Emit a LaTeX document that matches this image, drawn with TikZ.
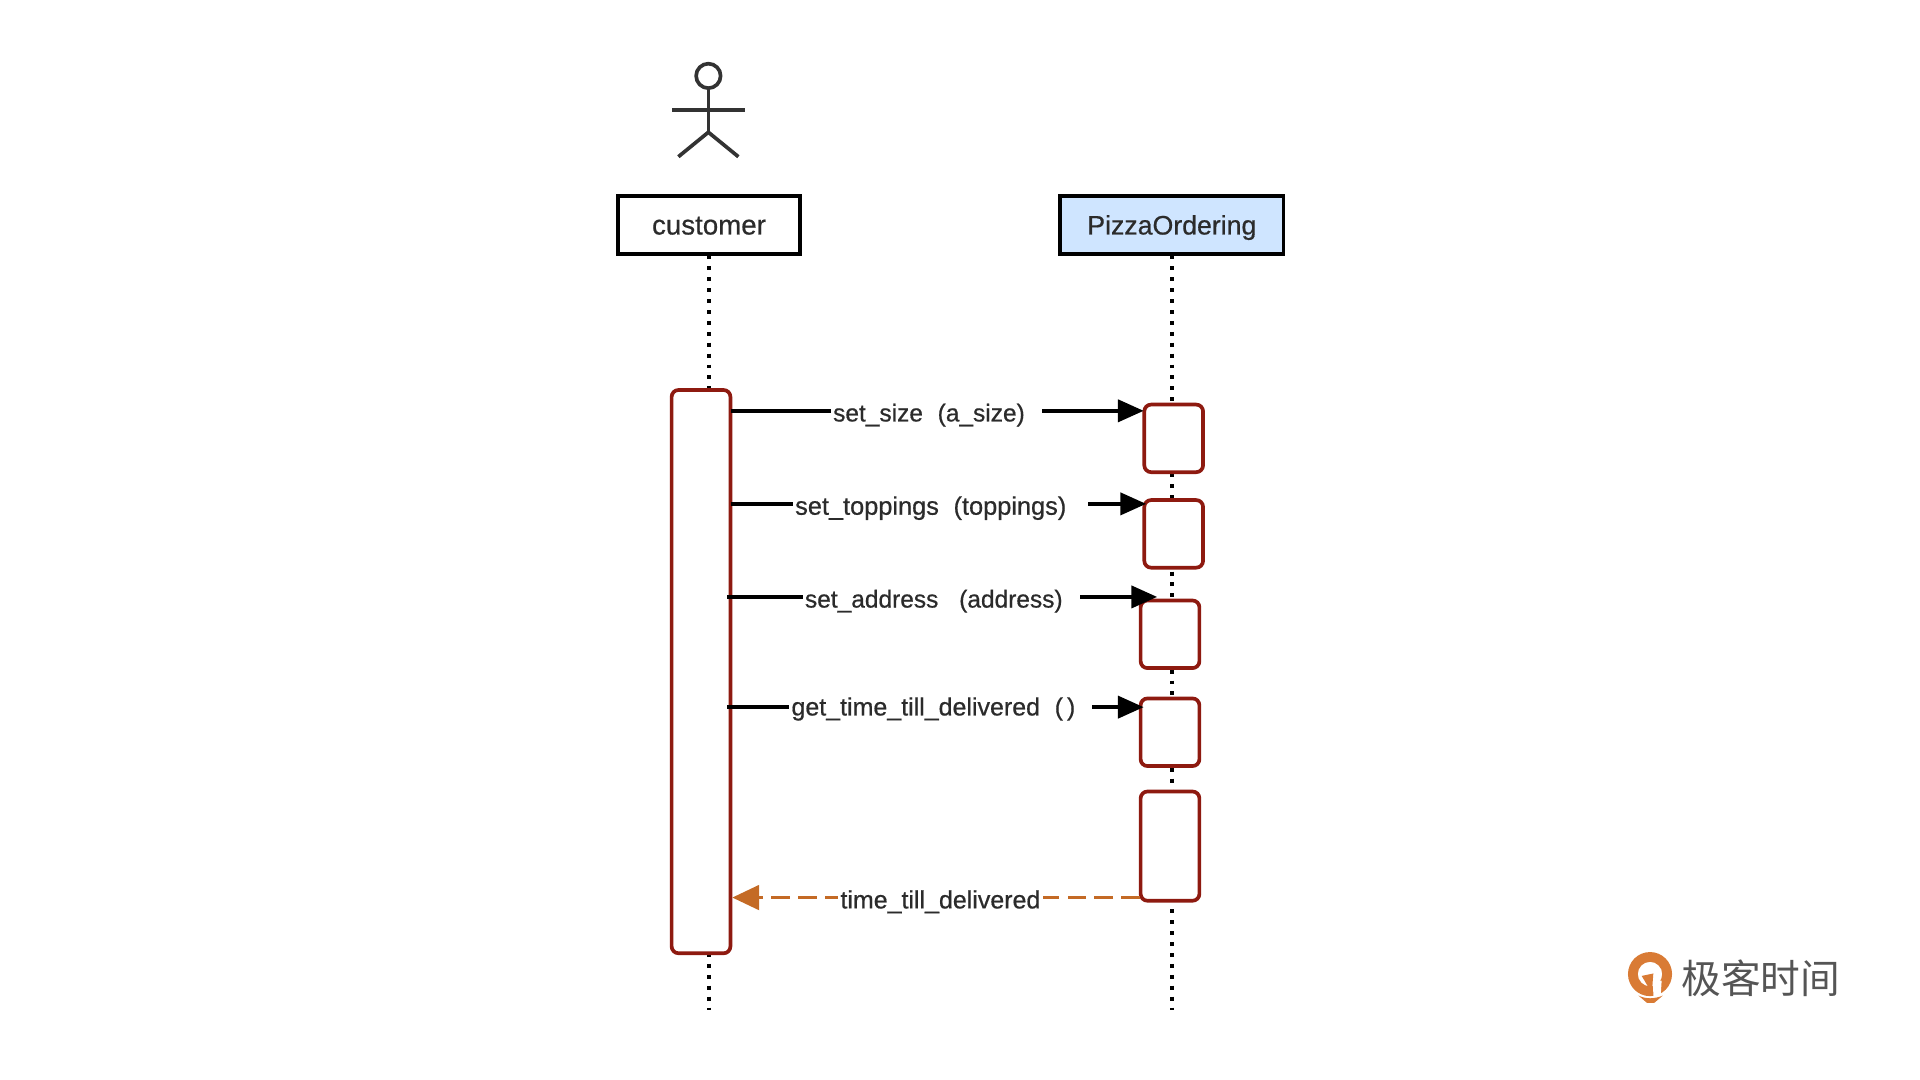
\documentclass[tikz,border=0pt]{standalone}
\usepackage{fontspec}
\setmainfont{Liberation Sans}[RawFeature={embolden=0.6}]
\newfontfamily\cjk{Noto Sans CJK SC}
\usetikzlibrary{arrows.meta}
\definecolor{actred}{HTML}{8E1A10}
\definecolor{retorange}{HTML}{C46A25}
\definecolor{pizzablue}{HTML}{CFE5FF}
\definecolor{inkgray}{HTML}{2B2B2B}
\definecolor{actorgray}{HTML}{333333}
\definecolor{logogray}{HTML}{555555}
\definecolor{logoorange}{HTML}{D97B35}
\tikzset{
  px/.style={x=0.5pt,y=-0.5pt},
  headbox/.style={draw=black,line width=1.6pt,minimum height=23.6pt,inner sep=0pt,text height=10.25pt,text depth=2.25pt,text=inkgray},
  lifeline/.style={draw=black,line width=1.6pt,dash pattern=on 1.6pt off 2.85pt},
  actbox/.style={draw=actred,fill=white,line width=1.5pt,rounded corners=2.8pt,minimum width=24pt,inner sep=0pt},
  msg/.style={draw=black,line width=1.5pt,-{Triangle[length=10.5pt,width=9pt]}},
  ret/.style={draw=retorange,line width=1.5pt,dash pattern=on 7.6pt off 3.4pt,-{Triangle[length=11pt,width=10pt]}},
  msglabel/.style={fill=white,inner xsep=1pt,inner ysep=1pt,font=\fontsize{10}{12}\selectfont,text=inkgray},
  actor/.style={draw=actorgray,line width=1.5pt},
}
\newcommand{\lp}[1]{\hspace{#1}(}
\newcommand{\rp}[1]{)\hspace{#1}\null}
\begin{document}
\begin{tikzpicture}[px]
\useasboundingbox (0,0) rectangle (1568,882);
% actor
\node[actor,circle,inner sep=0pt,minimum size=10pt] (head) at (578.5,62) {};
\coordinate (hip) at (578.5,108);
\coordinate (armL) at (549,90);
\coordinate (armR) at (608,90);
\coordinate (legL) at (554,128);
\coordinate (legR) at (603,128);
\draw[actor] (head.south) -- (hip);
\draw[actor] (armL) -- (armR);
\draw[actor] (legL) -- (hip) -- (legR);
% headers
\node[headbox,minimum width=74.2pt,font=\fontsize{11.3}{13}\selectfont] (cust) at (579,183.5) {customer};
\node[headbox,minimum width=91.2pt,fill=pizzablue,font=\fontsize{10.9}{13}\selectfont] (pizza) at (957,183.5) {PizzaOrdering};
% lifelines
\coordinate (custEnd) at (579,825);
\coordinate (pizzaEnd) at (957,825);
\draw[lifeline] (cust.south -| custEnd) -- (custEnd);
\draw[lifeline] (pizza.south -| pizzaEnd) -- (pizzaEnd);
% activations
\node[actbox,minimum height=230pt] (bar) at (572.5,548.5) {};
\node[actbox,minimum height=27.6pt] (b1) at (958.5,358) {};
\node[actbox,minimum height=27.6pt] (b2) at (958.5,436) {};
\node[actbox,minimum height=27.6pt] (b3) at (955.5,518) {};
\node[actbox,minimum height=27.6pt] (b4) at (955.5,598) {};
\node[actbox,minimum height=44.6pt] (b5) at (955.5,691) {};
% messages
\coordinate (s1) at (597,335.5);  \coordinate (t1) at (934,335.5);
\coordinate (s2) at (597,411.5);  \coordinate (t2) at (936,411.5);
\coordinate (s3) at (594,487.5);  \coordinate (t3) at (945,487.5);
\coordinate (s4) at (594,577.5);  \coordinate (t4) at (934,577.5);
\coordinate (s5) at (931,733);  \coordinate (t5) at (598,733);
\draw[msg] (s1) -- (t1);
\draw[msg] (s2) -- (t2);
\draw[msg] (s3) -- (t3);
\draw[msg] (s4) -- (t4);
\draw[ret] (s5) -- (t5);
\node[msglabel,anchor=west] (l1) at (678,339) {set\_size\lp{6pt}a\_size\rp{6pt}};
\node[msglabel,anchor=west,font=\fontsize{10.35}{12}\selectfont] (l2) at (647,415) {set\_toppings\lp{6pt}toppings\rp{8pt}};
\node[msglabel,anchor=west] (l3) at (655,491) {set\_address\lp{8.5pt}address\rp{6pt}};
\node[msglabel,anchor=west,font=\fontsize{10.2}{12}\selectfont] (l4) at (644,579) {get\_time\_till\_delivered\lp{6pt}\hspace{1.6pt}\rp{6pt}};
\node[msglabel,font=\fontsize{10.2}{12}\selectfont] (l5) at (768,736.5) {time\_till\_delivered};
% logo
\fill[logoorange,even odd rule] (1347.5,795.5) circle (18) (1347.5,795.5) circle (10);
\fill[white] (1349.5,799) -- (1357,801) -- (1356,816) -- (1350.5,816) -- cycle;
\fill[logoorange] (1340.7,797) -- (1350.2,795) -- (1349,811) -- cycle;
\fill[logoorange] (1338,813) .. controls (1344,816) and (1351,816) .. (1358,813) -- (1351,819) -- (1345,819) -- cycle;
\node[inner sep=0pt,text=logogray,font=\fontsize{16.2}{18}\cjk] (logotext) at (1438,799) {极客时间};
\end{tikzpicture}
\end{document}
